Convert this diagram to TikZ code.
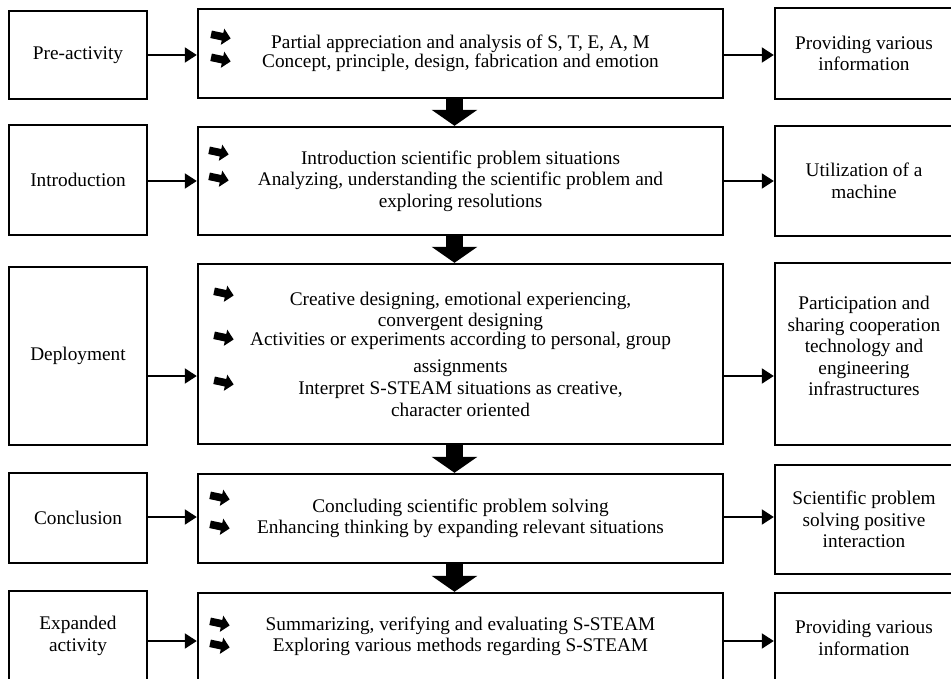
\documentclass[tikz,border=0pt]{standalone}
\usepackage{fontspec}
\setmainfont{Liberation Serif}
\usetikzlibrary{arrows.meta,shapes.arrows}

\begin{document}
\begin{tikzpicture}[
    x=1pt, y=-1pt,
    font=\fontsize{19.3}{21.5}\selectfont,
    box/.style={draw,line width=2.4pt,align=center,inner sep=0pt},
    stage/.style={box,minimum width=138pt},
    task/.style={box,minimum width=525pt},
    result/.style={box,minimum width=178pt},
    pointer/.style={single arrow,fill=black,minimum height=20pt,inner sep=0pt,inner ysep=3.6pt,single arrow head extend=4.5pt,font=\tiny,rotate=-12},
    arrow/.style={-{Triangle[length=12pt,width=15pt]},line width=2pt},
    flow/.style={-{Triangle[length=16pt,width=45pt]},line width=17pt}
  ]
    \useasboundingbox (0,0) rectangle (951,679);
    \clip (0,0) rectangle (951,679);
    % stages
    \node[stage,minimum height=88pt] (pre) at (78,55) {Pre-activity};
    \node[stage,minimum height=110pt] (intro) at (78,180) {Introduction};
    \node[stage,minimum height=178pt] (deploy) at (78,356) {Deployment};
    \node[stage,minimum height=90pt] (concl) at (78,518) {Conclusion};
    \node[stage,minimum height=90pt] (expand) at (78,636) {Expanded\\activity};
    % tasks
    \node[task,minimum height=89pt] (tpre) at (460.5,53.5) {Partial appreciation and analysis of S, T, E, A, M\\[-2.5pt]Concept, principle, design, fabrication and emotion};
    \node[task,minimum height=108pt] (tintro) at (460.5,181) {Introduction scientific problem situations\\Analyzing, understanding the scientific problem and\\exploring resolutions};
    \node[task,minimum height=180pt] (tdeploy) at (460.5,354) {Creative designing, emotional experiencing,\\convergent designing\\[-2.5pt]Activities or experiments according to personal, group\\[5.5pt]assignments\\[0.5pt]Interpret S-STEAM situations as creative,\\character oriented};
    \node[task,minimum height=89pt] (tconcl) at (460.5,518.5) {Concluding scientific problem solving\\Enhancing thinking by expanding relevant situations};
    \node[task,minimum height=87pt] (texpand) at (460.5,636.5) {Summarizing, verifying and evaluating S-STEAM\\Exploring various methods regarding S-STEAM};
    % results
    \node[result,minimum height=91pt] (rpre) at (864,53.5) {Providing various\\information};
    \node[result,minimum height=110pt] (rintro) at (864,181) {Utilization of a\\machine};
    \node[result,minimum height=182pt] (rdeploy) at (864,354) {Participation and\\sharing cooperation\\technology and\\engineering\\infrastructures\\[-5.5pt]};
    \node[result,minimum height=109pt] (rconcl) at (864,519.5) {Scientific problem\\solving positive\\interaction};
    \node[result,minimum height=90pt] (rexpand) at (864,638) {Providing various\\information};
    % pointers
    \node[pointer] (p11) at (219,36) {};
    \node[pointer] (p12) at (219,59) {};
    \node[pointer] (p21) at (217,152) {};
    \node[pointer] (p22) at (217,178) {};
    \node[pointer] (p31) at (222,293) {};
    \node[pointer] (p32) at (222,337) {};
    \node[pointer] (p33) at (222,382) {};
    \node[pointer] (p41) at (218,497) {};
    \node[pointer] (p42) at (218,526) {};
    \node[pointer] (p51) at (218,623) {};
    \node[pointer] (p52) at (218,645) {};
    % connectors
    \draw[arrow] (pre.east |- 0,55) -- (tpre.west |- 0,55);
    \draw[arrow] (intro.east |- 0,181) -- (tintro.west |- 0,181);
    \draw[arrow] (deploy.east |- 0,376) -- (tdeploy.west |- 0,376);
    \draw[arrow] (concl.east |- 0,517) -- (tconcl.west |- 0,517);
    \draw[arrow] (expand.east |- 0,641) -- (texpand.west |- 0,641);
    \draw[arrow] (tpre.east |- 0,55) -- (rpre.west |- 0,55);
    \draw[arrow] (tintro.east |- 0,181) -- (rintro.west |- 0,181);
    \draw[arrow] (tdeploy.east |- 0,376) -- (rdeploy.west |- 0,376);
    \draw[arrow] (tconcl.east |- 0,517) -- (rconcl.west |- 0,517);
    \draw[arrow] (texpand.east |- 0,641) -- (rexpand.west |- 0,641);
    \draw[flow] ([xshift=-6pt]tpre.south) -- ([xshift=-6pt]tintro.north);
    \draw[flow] ([xshift=-6pt]tintro.south) -- ([xshift=-6pt]tdeploy.north);
    \draw[flow] ([xshift=-6pt]tdeploy.south) -- ([xshift=-6pt]tconcl.north);
    \draw[flow] ([xshift=-6pt]tconcl.south) -- ([xshift=-6pt]texpand.north);
\end{tikzpicture}
\end{document}
